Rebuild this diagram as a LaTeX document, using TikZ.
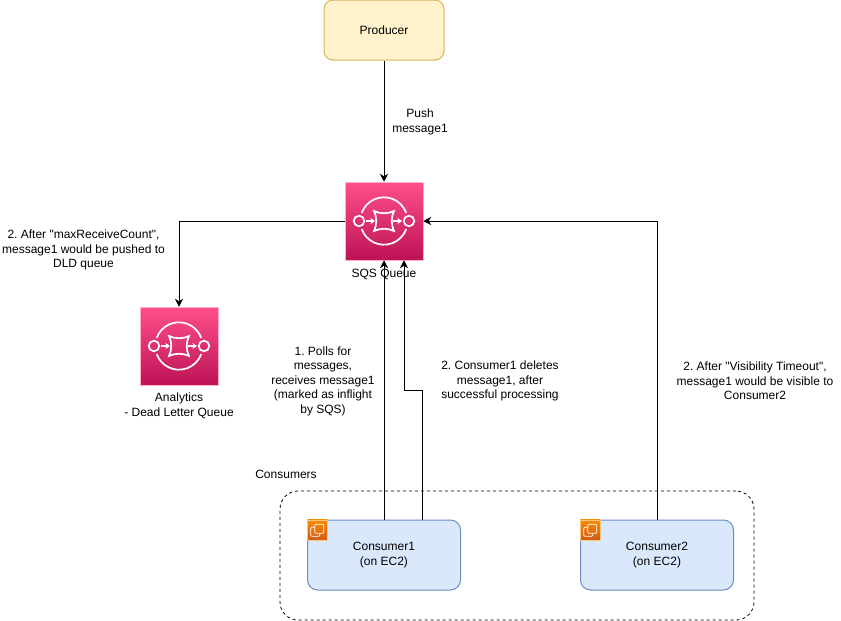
\documentclass[tikz,border=0pt]{standalone}
\usepackage{fontspec}
\setmainfont{Liberation Sans}[Ligatures=TeXOff]
\usepackage{xcolor}
\usetikzlibrary{
  arrows.meta,
  calc,
  positioning
}
\definecolor{prodfill}{RGB}{255,242,204}
\definecolor{proddraw}{RGB}{214,182,86}
\definecolor{ecfill}{RGB}{218,232,252}
\definecolor{ecdraw}{RGB}{108,142,191}
\definecolor{sqstop}{RGB}{255,79,139}
\definecolor{sqsbottom}{RGB}{188,19,86}
\definecolor{ectop}{RGB}{247,142,4}
\definecolor{ecbottom}{RGB}{208,92,23}
\tikzset{
  txt/.style={font=\fontsize{12}{14.5}\selectfont\frenchspacing,align=center,inner sep=0pt},
  producer/.style={txt,draw=proddraw,fill=prodfill,line width=1pt,rounded corners=9pt,
    minimum width=120pt,minimum height=60pt},
  consumer/.style={txt,draw=ecdraw,fill=ecfill,line width=1pt,rounded corners=10pt,
    minimum width=153pt,minimum height=70pt},
  group/.style={draw=black,line width=0.8pt,dash pattern=on 3pt off 3pt,rounded corners=18pt,
    minimum width=474pt,minimum height=129pt},
  sqsicon/.style={draw=sqstop!45!white,line width=0.5pt,top color=sqstop,bottom color=sqsbottom,
    minimum size=78pt,inner sep=0pt},
  ecicon/.style={draw=ectop!50!white,line width=0.5pt,top color=ectop,bottom color=ecbottom,
    minimum size=20pt,inner sep=0pt},
  flow/.style={-{Stealth[length=8pt,width=8pt]},line width=1pt,draw=black},
  glyph/.style={draw=white,line width=1.7pt},
  sqsglyph/.pic={
    \draw[glyph] (-22.3,-8.1) arc[start angle=160,end angle=20,radius=23.7pt];
    \draw[glyph] (-22.3,8.1) arc[start angle=200,end angle=340,radius=23.7pt];
    \draw[glyph] (-25,0) circle[radius=5.3pt];
    \draw[glyph] (25,0) circle[radius=5.3pt];
    \draw[glyph,line width=1.4pt,-{Stealth[length=4.5pt,width=6pt]}] (-18,0) -- (-9,0);
    \draw[glyph,line width=1.4pt,-{Stealth[length=4.5pt,width=6pt]}] (9,0) -- (18,0);
    \draw[glyph] (-10,-10) .. controls (-4,-7) and (4,-7) .. (10,-10)
      .. controls (7,-4) and (7,4) .. (10,10)
      .. controls (4,7) and (-4,7) .. (-10,10)
      .. controls (-7,4) and (-7,-4) .. (-10,-10) -- cycle;
  },
  ecglyph/.pic={
    \draw[draw=white,line width=0.7pt,rounded corners=1pt] (-2.5,-5.5) rectangle (6.5,3.5);
    \draw[draw=white,line width=0.7pt,rounded corners=1pt] (-2.5,-2.5) -- (-6.5,-2.5) -- (-6.5,6.5)
      -- (2.5,6.5) -- (2.5,3.5);
  }
}

\begin{document}
\begin{tikzpicture}[x=1pt,y=-1pt]
  \useasboundingbox (0,0) rectangle (841,621);
  \node[producer] (producer) at (384,30) {Producer};
  \node[sqsicon] (sqs) at (384,221) {};
  \pic at (sqs.center) {sqsglyph};
  \node[sqsicon] (dlq) at (179,346) {};
  \pic at (dlq.center) {sqsglyph};
  \node[group] (consumers) at (517,555.5) {};
  \node[consumer] (consumerone) at (384,555) {Consumer1\\(on EC2)};
  \node[consumer] (consumertwo) at (657,555) {Consumer2\\(on EC2)};
  \node[ecicon,anchor=north west] (econe) at (consumerone.north west) {};
  \pic at (econe.center) {ecglyph};
  \node[ecicon,anchor=north west] (ectwo) at (consumertwo.north west) {};
  \pic at (ectwo.center) {ecglyph};
  \draw[flow] (producer)--(sqs);
  \draw[flow] (sqs.west)-|(dlq.north);
  \draw[flow] (consumerone.north)--(sqs.south);
  \draw[flow] ([xshift=38pt]consumerone.north)|-(404,390.5)--(sqs.south-|404,0);
  \draw[flow] (consumertwo.north)|-(sqs.east);
  \node[txt] (sqslab) at (384,274) {SQS Queue};
  \node[txt] (dlqlab) at (179,406) {Analytics\\- Dead Letter Queue};
  \node[txt] (pushlab) at (420,122) {Push\\message1};
  \node[txt] (maxlab) at (83.5,250) {2. After "maxReceiveCount",\\message1 would be pushed to\\DLD queue};
  \node[txt] (polllab) at (323,381) {1. Polls for\\messages,\\receives message1\\(marked as inflight\\by SQS)};
  \node[txt] (deletelab) at (500,381) {2. Consumer1 deletes\\message1, after\\successful processing};
  \node[txt] (timeoutlab) at (755,381) {2. After "Visibility Timeout",\\message1 would be visible to\\Consumer2};
  \node[txt] (grouplab) at (286,474) {Consumers};
\end{tikzpicture}
\end{document}
